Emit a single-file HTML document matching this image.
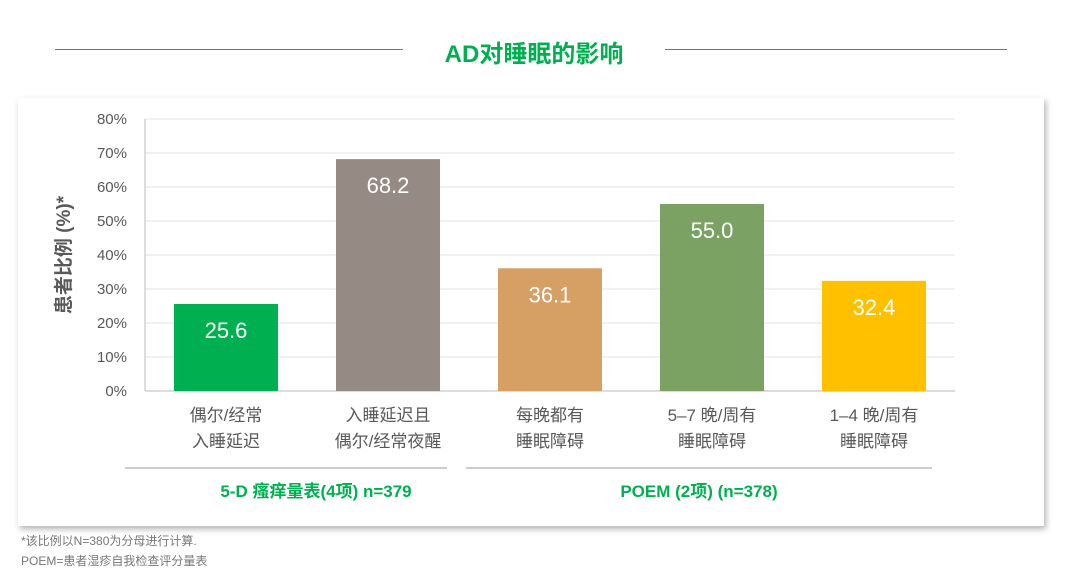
<!DOCTYPE html>
<html><head><meta charset="utf-8"><style>
body{margin:0;width:1081px;height:573px;background:#fff;overflow:hidden;font-family:"Liberation Sans","Noto Sans CJK SC",sans-serif;position:relative}
.abs{position:absolute}
</style></head><body>
<div class="abs" style="left:55px;top:49px;width:348px;height:1px;background:#5b8a3a"></div>
<div class="abs" style="left:665px;top:49px;width:342px;height:1px;background:#5b8a3a"></div>
<div class="abs" style="left:403px;width:262px;top:34px;text-align:center;font-size:24px;font-weight:bold;color:#00b050">AD对睡眠的影响</div>
<div class="abs" style="left:18px;top:98px;width:1026px;height:428px;background:#fff;box-shadow:2px 3px 6px rgba(0,0,0,0.3)"></div>
<svg class="abs" style="left:0;top:0" width="1081" height="573" id="chart"></svg>
<div class="abs" style="left:21px;top:532px;font-size:12px;color:#777">*该比例以N=380为分母进行计算.</div>
<div class="abs" style="left:21px;top:552px;font-size:12px;color:#777">POEM=患者湿疹自我检查评分量表</div>
<script>
const categories=[["偶尔/经常","入睡延迟"],["入睡延迟且","偶尔/经常夜醒"],["每晚都有","睡眠障碍"],["5–7 晚/周有","睡眠障碍"],["1–4 晚/周有","睡眠障碍"]];
const values=[25.6,68.2,36.1,55.0,32.4];
const colors=["#00b050","#968a84","#d6a064","#7ba163","#ffc000"];
const ticks=[0,10,20,30,40,50,60,70,80];
const groups=[{label:"5-D 瘙痒量表(4项) n=379",x0:125,x1:447},{label:"POEM (2项) (n=378)",x0:466,x1:932}];
const svg=document.getElementById('chart');
const NS="http://www.w3.org/2000/svg";
const X0=145,X1=955,Y0=391,Y1=119;
const y=v=>Y0-(v/80)*(Y0-Y1);
const band=(X1-X0)/categories.length;
const xc=i=>X0+band*(i+0.5);
function mk(t,a,txt){const e=document.createElementNS(NS,t);for(const k in a)e.setAttribute(k,a[k]);if(txt!=null)e.textContent=txt;svg.appendChild(e);return e;}
ticks.forEach(t=>{
 const g=mk('line',{x1:X0,x2:X1,y1:y(t),y2:y(t),stroke:t===0?'#bbb':'#e3e3e3','stroke-width':1});
 
 const l=mk('text',{x:127,y:y(t)+5,'text-anchor':'end','font-size':15,fill:'#595959'},t+'%');
 
});
const ax=mk('line',{x1:X0,x2:X0,y1:Y1,y2:Y0,stroke:'#bbb'});

const yt=mk('text',{x:70,y:255,transform:'rotate(-90 70 255)','text-anchor':'middle','font-size':19,'font-weight':'bold',fill:'#595959'},'患者比例 (%)*');

values.forEach((v,i)=>{
 const w=104;
 const r=mk('rect',{x:xc(i)-w/2,y:y(v),width:w,height:Y0-y(v),fill:colors[i]});
 
 const t=mk('text',{x:xc(i),y:y(v)+34,'text-anchor':'middle','font-size':22,fill:'#fff'},v.toFixed(1));
 
 categories[i].forEach((s,j)=>{
  const c=mk('text',{x:xc(i),y:421+j*26,'text-anchor':'middle','font-size':17,fill:'#595959'},s);
  
 });
});
groups.forEach(g=>{
 const l=mk('line',{x1:g.x0,x2:g.x1,y1:468,y2:468,stroke:'#999'});
 
 const t=mk('text',{x:(g.x0+g.x1)/2+(g===groups[0]?30:0),y:497,'text-anchor':'middle','font-size':17,'font-weight':'bold',fill:'#00b050'},g.label);
 
});
</script>
</body></html>
